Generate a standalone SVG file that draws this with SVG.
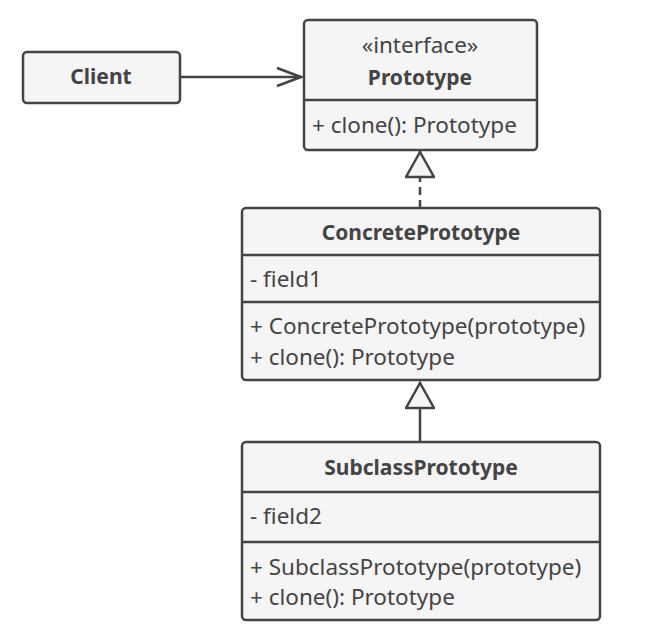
<svg xmlns="http://www.w3.org/2000/svg" width="645" height="641" viewBox="0 0 645 641">
<style>
.box{fill:#f5f5f5;stroke:#444;stroke-width:2.5}
.div{stroke:#444;stroke-width:2.5}
.t{font-family:"Noto Sans","Open Sans",sans-serif;font-size:22.5px;fill:#444}
.b{font-weight:bold;text-anchor:middle;font-size:21px}
.c{text-anchor:middle}
.edge{stroke:#444;stroke-width:2.5;fill:none}
</style>
<defs>
<marker id="open" viewBox="0 0 30 24" refX="28" refY="12" markerWidth="30" markerHeight="24" markerUnits="userSpaceOnUse" orient="auto">
<path d="M3,3 L27,12 L3,21" fill="none" stroke="#444" stroke-width="2.5"/>
</marker>
<marker id="tri" viewBox="0 0 30 30" refX="28" refY="15" markerWidth="30" markerHeight="30" markerUnits="userSpaceOnUse" orient="auto">
<path d="M27,15 L2,1 L2,29 Z" fill="#f5f5f5" stroke="#444" stroke-width="2.5"/>
</marker>
</defs>
<rect width="645" height="641" fill="#fff"/>
<g id="connectors">
<line class="edge" x1="180" y1="77" x2="302" y2="77" marker-end="url(#open)"/>
<line class="edge" x1="420" y1="208" x2="420" y2="151" stroke-dasharray="8,5" marker-end="url(#tri)"/>
<line class="edge" x1="420" y1="442" x2="420" y2="382" marker-end="url(#tri)"/>
</g>
<g id="client">
<rect class="box" x="23" y="52" width="157" height="51" rx="4"/>
<text class="t b" x="101" y="84">Client</text>
</g>
<g id="prototype">
<rect class="box" x="304" y="20" width="233" height="130" rx="4"/>
<line class="div" x1="304" y1="100" x2="537" y2="100"/>
<text class="t c" x="420" y="53">«interface»</text>
<text class="t b" x="420" y="85">Prototype</text>
<text class="t" x="312" y="133">+ clone(): Prototype</text>
</g>
<g id="concrete">
<rect class="box" x="242" y="208" width="358" height="172" rx="4"/>
<line class="div" x1="242" y1="255" x2="600" y2="255"/>
<line class="div" x1="242" y1="302" x2="600" y2="302"/>
<text class="t b" x="421" y="240">ConcretePrototype</text>
<text class="t" x="250" y="287">- field1</text>
<text class="t" x="250" y="334">+ ConcretePrototype(prototype)</text>
<text class="t" x="250" y="365">+ clone(): Prototype</text>
</g>
<g id="subclass">
<rect class="box" x="242" y="442" width="358" height="178" rx="4"/>
<line class="div" x1="242" y1="492" x2="600" y2="492"/>
<line class="div" x1="242" y1="542" x2="600" y2="542"/>
<text class="t b" x="421" y="475">SubclassPrototype</text>
<text class="t" x="250" y="524">- field2</text>
<text class="t" x="250" y="575">+ SubclassPrototype(prototype)</text>
<text class="t" x="250" y="605">+ clone(): Prototype</text>
</g>
</svg>
